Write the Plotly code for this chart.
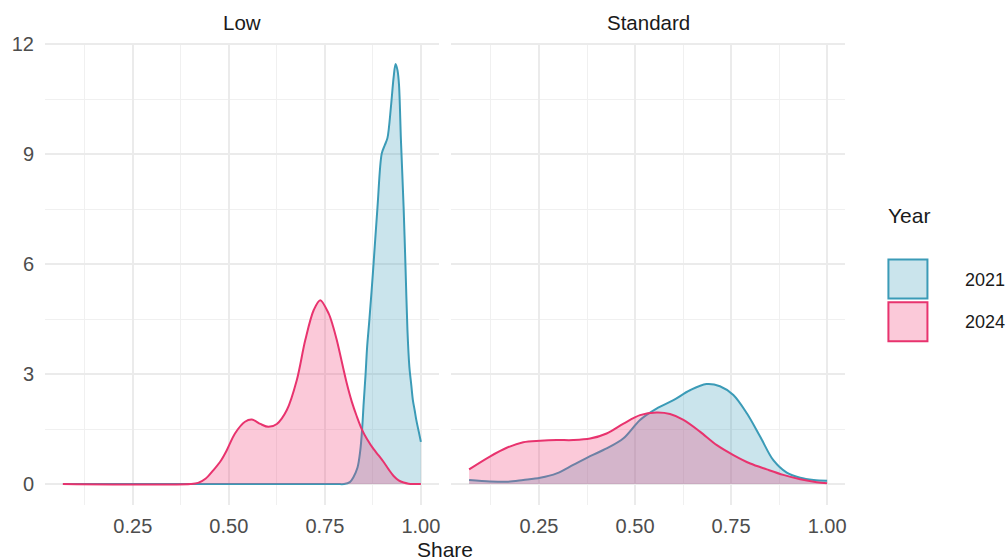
import plotly.graph_objects as go

# ---- density estimates of Share, by tariff type and year ----
low_2021_x = [0.068, 0.40, 0.78, 0.80, 0.815, 0.824, 0.835, 0.842, 0.847, 0.851, 0.856, 0.86,
              0.866, 0.875, 0.887, 0.898, 0.906, 0.913, 0.922, 0.929, 0.934, 0.939, 0.943,
              0.948, 0.955, 0.96, 0.965, 0.97, 0.975, 0.979, 0.984, 0.988, 0.994, 1.0]
low_2021_y = [0.0, 0.0, 0.0, 0.0, 0.05, 0.18, 0.45, 0.9, 1.5, 2.2, 3.0, 3.74,
              4.5, 5.75, 7.56, 9.02, 9.25, 9.45, 10.3, 11.1, 11.47, 11.3, 10.9,
              9.4, 7.56, 5.9, 4.2, 3.2, 2.7, 2.3, 2.0, 1.75, 1.45, 1.15]

low_2024_x = [0.068, 0.40, 0.42, 0.44, 0.46, 0.48, 0.495, 0.516, 0.542, 0.56, 0.582, 0.603,
              0.625, 0.651, 0.677, 0.699, 0.721, 0.738, 0.76, 0.77, 0.781, 0.807, 0.82, 0.833,
              0.846, 0.86, 0.877, 0.89, 0.903, 0.916, 0.929, 0.942, 0.955, 0.968, 0.98, 1.0]
low_2024_y = [0.0, 0.0, 0.03, 0.15, 0.38, 0.65, 0.93, 1.38, 1.7, 1.76, 1.64, 1.56,
              1.64, 2.02, 2.84, 3.93, 4.75, 5.02, 4.65, 4.35, 3.93, 2.75, 2.25, 1.85,
              1.5, 1.22, 0.95, 0.78, 0.6, 0.4, 0.22, 0.1, 0.04, 0.01, 0.0, 0.0]

std_2021_x = [0.068, 0.122, 0.166, 0.209, 0.253, 0.296, 0.339, 0.383, 0.426, 0.47, 0.513,
              0.556, 0.60, 0.643, 0.686, 0.721, 0.756, 0.791, 0.826, 0.86, 0.895, 0.93,
              0.965, 1.0]
std_2021_y = [0.11, 0.07, 0.06, 0.11, 0.17, 0.29, 0.52, 0.76, 0.97, 1.25, 1.75,
              2.06, 2.29, 2.56, 2.73, 2.67, 2.43, 1.93, 1.29, 0.65, 0.31, 0.17,
              0.11, 0.09]

std_2024_x = [0.068, 0.122, 0.166, 0.209, 0.253, 0.296, 0.339, 0.383, 0.426, 0.47, 0.513,
              0.556, 0.591, 0.626, 0.669, 0.713, 0.756, 0.80, 0.843, 0.886, 0.93, 0.973,
              1.0]
std_2024_y = [0.4, 0.75, 0.99, 1.14, 1.18, 1.2, 1.2, 1.24, 1.38, 1.65, 1.88,
              1.95, 1.91, 1.75, 1.43, 1.06, 0.79, 0.56, 0.4, 0.25, 0.13, 0.05,
              0.02]

panels = ["Low", "Standard"]
years = ["2021", "2024"]
x_major = [0.25, 0.50, 0.75, 1.00]
x_major_text = ["0.25", "0.50", "0.75", "1.00"]
x_minor = [0.125, 0.375, 0.625, 0.875]
y_major = [0, 3, 6, 9, 12]
y_minor = [1.5, 4.5, 7.5, 10.5]

line_col = {"2021": "#3b9bb7", "2024": "#e8336e"}
fill_col = {"2021": "rgba(59,155,183,0.27)", "2024": "rgba(240,60,120,0.28)"}

# ---- page geometry (pixels) ----
W, H = 1006, 560
ML, MR, MT, MB = 45, 161.4, 43, 55
PW = W - ML - MR
PH = H - MT - MB


def px(x):
    return (x - ML) / PW


def py(y):
    return (H - MB - y) / PH


fig = go.Figure()

series = {
    ("Low", "2021"): (low_2021_x, low_2021_y),
    ("Low", "2024"): (low_2024_x, low_2024_y),
    ("Standard", "2021"): (std_2021_x, std_2021_y),
    ("Standard", "2024"): (std_2024_x, std_2024_y),
}

for i, panel in enumerate(panels):
    xa = "x" if i == 0 else "x2"
    ya = "y" if i == 0 else "y2"
    for yr in years:
        xs, ys = series[(panel, yr)]
        fig.add_trace(go.Scatter(
            x=xs, y=ys, xaxis=xa, yaxis=ya, mode="lines", name=yr,
            line=dict(color=line_col[yr], width=2, shape="spline", smoothing=0.9),
            fill="tozeroy", fillcolor=fill_col[yr], showlegend=False,
            hoverinfo="skip",
        ))

x_range = [0.0214, 1.0466]
y_range = [-0.573, 12.04]
grid = "#ebebeb"
tick_font = dict(family="Liberation Sans, Arial, sans-serif", size=20, color="#4d4d4d")

xcommon = dict(
    range=x_range, tickvals=x_major, ticktext=x_major_text, showgrid=True,
    gridcolor=grid, gridwidth=1.6, zeroline=False, showline=False, ticks="",
    tickfont=tick_font, ticklabelstandoff=7,
    minor=dict(tickvals=x_minor, showgrid=True, gridcolor="#f0f0f0", gridwidth=0.9),
)
ycommon = dict(
    range=y_range, tickvals=y_major, showgrid=True, gridcolor=grid, gridwidth=1.6,
    zeroline=False, showline=False, ticks="", tickfont=tick_font,
    minor=dict(tickvals=y_minor, showgrid=True, gridcolor="#f0f0f0", gridwidth=0.9),
)

gap = 12.4
left_end = px(ML + (PW - gap) / 2)
right_start = px(ML + (PW + gap) / 2)

fig.update_layout(
    width=W, height=H,
    margin=dict(l=ML, r=MR, t=MT, b=MB),
    paper_bgcolor="white", plot_bgcolor="white",
    font=dict(family="Liberation Sans, Arial, sans-serif", color="#1a1a1a"),
    xaxis=dict(domain=[0, left_end], anchor="y", **xcommon),
    xaxis2=dict(domain=[right_start, 1], anchor="y2", **xcommon),
    yaxis=dict(domain=[0, 1], anchor="x", ticklabelstandoff=10, **ycommon),
    yaxis2=dict(domain=[0, 1], anchor="x2", matches="y", showticklabels=False, **ycommon),
    showlegend=False,
)

# facet strip labels
fig.add_annotation(x=left_end / 2, y=py(22), xref="paper", yref="paper",
                   text=panels[0], showarrow=False, font=dict(size=20.5, color="#1a1a1a"),
                   xanchor="center", yanchor="middle")
fig.add_annotation(x=(right_start + 1) / 2, y=py(22), xref="paper", yref="paper",
                   text=panels[1], showarrow=False, font=dict(size=20.5, color="#1a1a1a"),
                   xanchor="center", yanchor="middle")

# x axis title
fig.add_annotation(x=0.5, y=py(549), xref="paper", yref="paper", text="Share",
                   showarrow=False, font=dict(size=21, color="#1a1a1a"),
                   xanchor="center", yanchor="middle")

# legend: title, key boxes and labels
fig.add_annotation(x=px(886), y=py(215.5), xref="paper", yref="paper", text="Year",
                   showarrow=False, font=dict(size=21, color="#1a1a1a"),
                   xanchor="left", yanchor="middle")
key_tops = {"2021": 259, "2024": 301.7}
for yr in years:
    top = key_tops[yr]
    fig.add_shape(type="rect", xref="paper", yref="paper",
                  x0=px(888), x1=px(927), y0=py(top + 39.5), y1=py(top + 0.5),
                  fillcolor=fill_col[yr], line=dict(color=line_col[yr], width=2))
    fig.add_annotation(x=px(962.5), y=py(top + 20.5), xref="paper", yref="paper",
                       text=yr, showarrow=False,
                       font=dict(size=18, color="#1a1a1a"),
                       xanchor="left", yanchor="middle")

fig.write_html("out.html")
